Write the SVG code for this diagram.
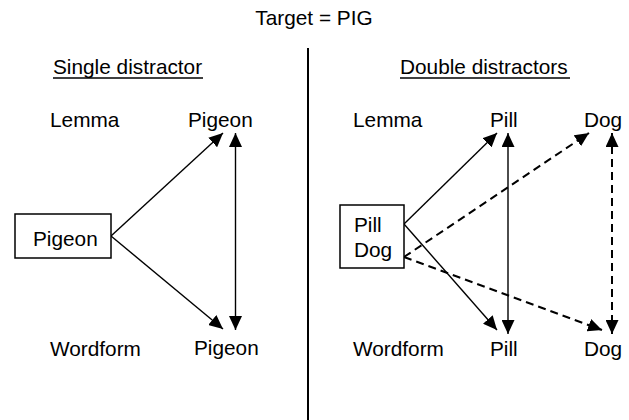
<svg xmlns="http://www.w3.org/2000/svg" width="629" height="420" viewBox="0 0 629 420">
<style>
text{font-family:"Liberation Sans",Arial,sans-serif;font-size:20.8px;fill:#000}
.box{fill:#fff;stroke:#000;stroke-width:1.5}
.s{stroke:#000;stroke-width:1.4;fill:none}
.d{stroke:#000;stroke-width:2;fill:none;stroke-dasharray:8,5}
</style>
<defs>
<marker id="ah" markerUnits="userSpaceOnUse" markerWidth="15" markerHeight="13" refX="14" refY="6.5" orient="auto-start-reverse"><path d="M0,0 L14,6.5 L0,13 z" fill="#000"/></marker>
</defs>
<text x="314" y="25" text-anchor="middle">Target = PIG</text>
<line x1="308" y1="48" x2="308" y2="420" stroke="#000" stroke-width="2"/>
<g id="left-heading"><text x="53" y="74">Single distractor</text><line x1="53" y1="78" x2="203" y2="78" stroke="#000" stroke-width="1.3"/></g>
<g id="right-heading"><text x="400" y="74">Double distractors</text><line x1="400" y1="78" x2="570" y2="78" stroke="#000" stroke-width="1.3"/></g>
<g id="labels">
<text x="50" y="127">Lemma</text>
<text x="50" y="356">Wordform</text>
<text x="353" y="127">Lemma</text>
<text x="353" y="356">Wordform</text>
</g>
<g id="connectors">
<line class="s" x1="111" y1="236" x2="223" y2="133" marker-end="url(#ah)"/>
<line class="s" x1="111" y1="236" x2="223" y2="329" marker-end="url(#ah)"/>
<line class="s" x1="235.5" y1="133" x2="235.5" y2="330" marker-start="url(#ah)" marker-end="url(#ah)"/>
<line class="s" x1="404" y1="224" x2="497" y2="133" marker-end="url(#ah)"/>
<line class="s" x1="404" y1="224" x2="497" y2="330" marker-end="url(#ah)"/>
<line class="s" x1="508" y1="133" x2="508" y2="334" marker-start="url(#ah)" marker-end="url(#ah)"/>
<line class="d" x1="404" y1="257" x2="589" y2="133" marker-end="url(#ah)"/>
<line class="d" x1="404" y1="257" x2="602" y2="330" marker-end="url(#ah)"/>
<line class="d" x1="612" y1="133" x2="612" y2="334" marker-start="url(#ah)" marker-end="url(#ah)"/>
</g>
<g id="pigeon-source"><rect class="box" x="15" y="214" width="96" height="44"/><text x="33" y="246">Pigeon</text></g>
<g id="pigeon-lemma"><text x="188" y="127">Pigeon</text></g>
<g id="pigeon-wordform"><text x="194" y="355">Pigeon</text></g>
<g id="pilldog-source"><rect class="box" x="340" y="205" width="64" height="63"/><text x="354" y="232">Pill</text><text x="354" y="257">Dog</text></g>
<g id="pill-lemma"><text x="490" y="127">Pill</text></g>
<g id="dog-lemma"><text x="584" y="127">Dog</text></g>
<g id="pill-wordform"><text x="490" y="356">Pill</text></g>
<g id="dog-wordform"><text x="584" y="356">Dog</text></g>
</svg>
